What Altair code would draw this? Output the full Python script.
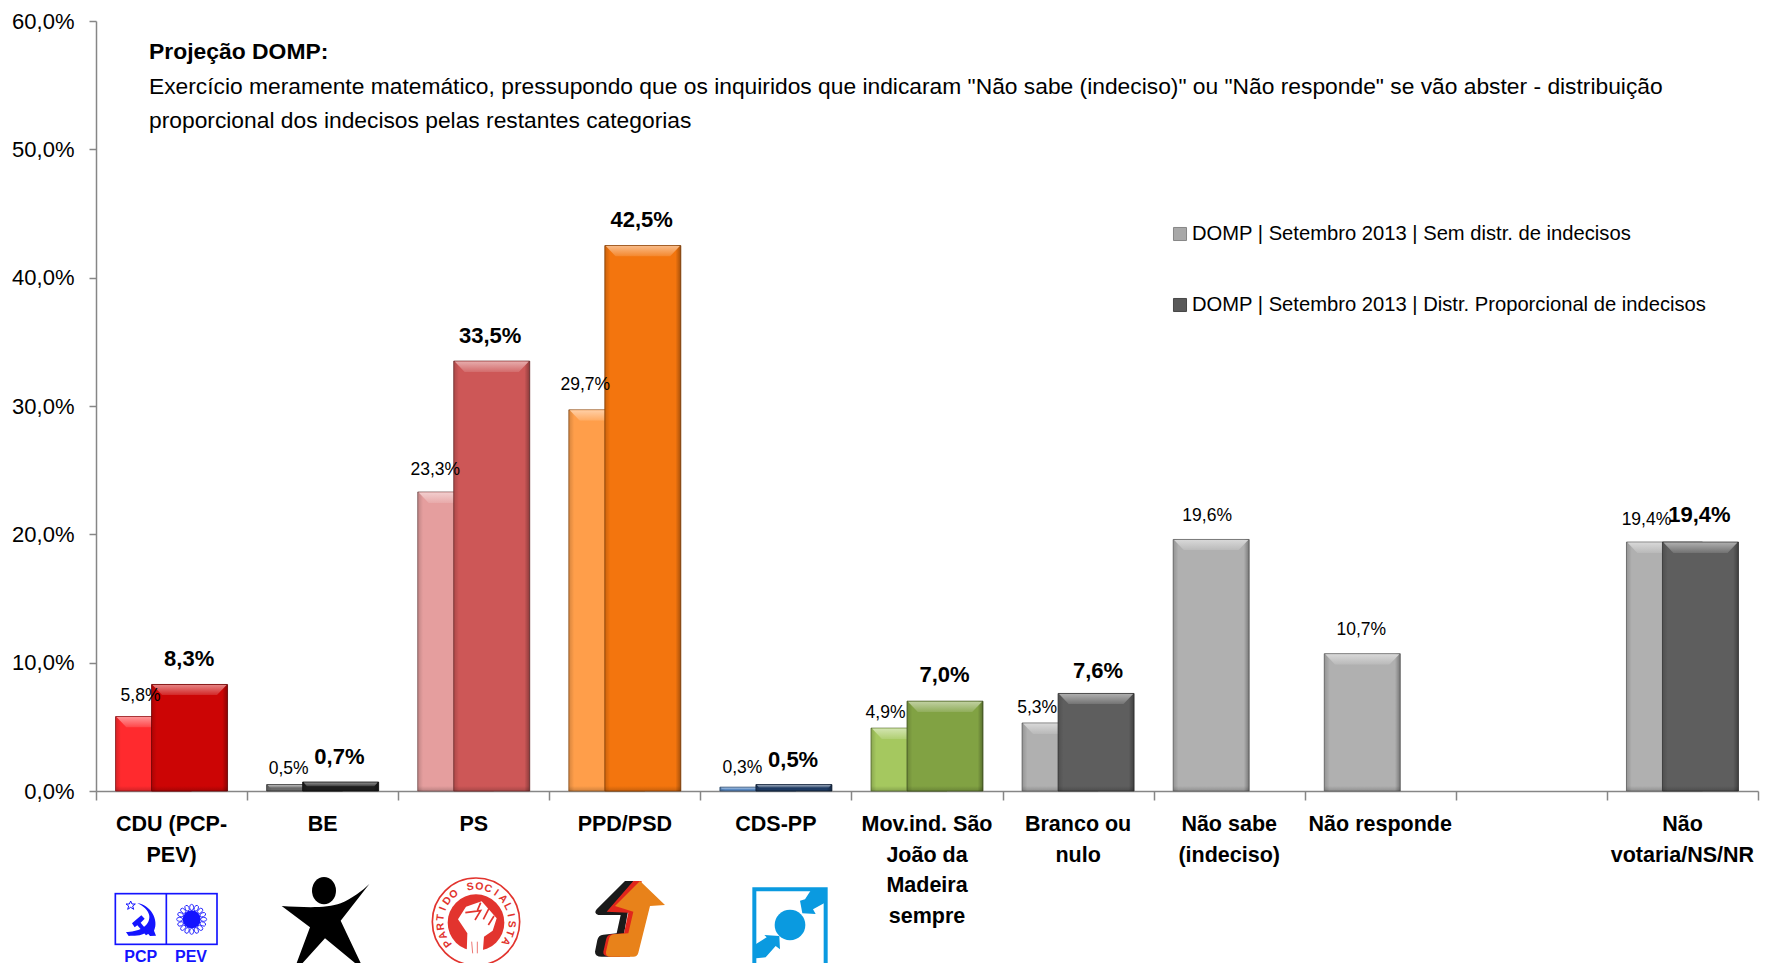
import base64
import math
import altair as alt
import pandas as pd

# ---- data ----
categories = ["CDU", "BE", "PS", "PPD/PSD", "CDS-PP", "Mov", "Branco", "NaoSabe", "NaoResp", "blank", "NaoVot"]
cat_labels = ["CDU (PCP-|PEV)", "BE", "PS", "PPD/PSD", "CDS-PP", "Mov.ind. São|João da|Madeira|sempre",
              "Branco ou|nulo", "Não sabe|(indeciso)", "Não responde", "", "Não|votaria/NS/NR"]
sem_distr = [5.8, 0.5, 23.3, 29.7, 0.3, 4.9, 5.3, 19.6, 10.7, None, 19.4]
com_distr = [8.3, 0.7, 33.5, 42.5, 0.5, 7.0, 7.6, None, None, None, 19.4]
y_ticks = [0, 10, 20, 30, 40, 50, 60]
title_bold = "Projeção DOMP:"
title_line1 = 'Exercício meramente matemático, pressupondo que os inquiridos que indicaram "Não sabe (indeciso)" ou "Não responde" se vão abster - distribuição'
title_line2 = "proporcional dos indecisos pelas restantes categorias"
legend_labels = ["DOMP | Setembro 2013 | Sem distr. de indecisos", "DOMP | Setembro 2013 | Distr. Proporcional de indecisos"]

# ---- styles ----
back_colors = ["#ff2a2e", "#6a6a6a", "#e59e9e", "#ff9e4a", "#5b8bc4", "#a5c85f", "#b0b0b0", "#b0b0b0", "#b0b0b0", "#b0b0b0", "#b0b0b0"]
front_colors = ["#cc0505", "#1e1e1e", "#cd5757", "#f3750e", "#1f3b63", "#81a243", "#5e5e5e", "#000000", "#000000", "#000000", "#5e5e5e"]
back_dx = [-31, -34, -38.5, -39.5, -33.5, -41.5, -41, -22, -19, 0, -36]
back_dy = [-21, -16, -22, -25, -19, -15.5, -15, -23, -24, 0, -22.5]
front_dx = [17.6, 16.8, 16.5, 16.8, 17.2, 17.5, 19.9, 0, 0, 0, 17]
front_dy = [-25, -25.5, -25.5, -26, -24.6, -26, -22.7, 0, 0, 0, -27]

FONT = "Liberation Sans"
W, H = 1662, 770
OX, OY = 96, 21
BAR_W = 76
PX_PER_UNIT = H / 60
AXIS_GREY = "#868686"


def px(v):
    return v - OX


def py(v):
    return v - OY


def mix(hex_color, other, t):
    a = [int(hex_color[i:i + 2], 16) for i in (1, 3, 5)]
    b = [int(other[i:i + 2], 16) for i in (1, 3, 5)]
    return "#" + "".join(f"{round(x + (y - x) * t):02x}" for x, y in zip(a, b))


def stop(c, o):
    return alt.GradientStop(color=c, offset=o)


def data_uri(svg):
    return "data:image/svg+xml;base64," + base64.b64encode(svg.encode()).decode()


x_scale = alt.Scale(domain=categories, paddingInner=0, paddingOuter=0)
y_scale = alt.Scale(domain=[0, 60], nice=False)
x_axis = alt.Axis(labels=False, title=None, tickBand="extent", tickSize=9, tickColor=AXIS_GREY, tickWidth=1.5,
                  domainColor=AXIS_GREY, domainWidth=1.5, grid=False)
y_axis = alt.Axis(values=y_ticks, title=None, tickSize=7, tickColor=AXIS_GREY, tickWidth=1.5, domainColor=AXIS_GREY,
                  domainWidth=1.5, grid=False, labelFont=FONT, labelFontSize=22, labelColor="#000000",
                  labelPadding=15, labelExpr="replace(format(datum.value,'.1f'),'.',',')+'%'")
X = alt.X("cat:N", scale=x_scale, axis=x_axis)
Y = alt.Y("v:Q", scale=y_scale, axis=y_axis)


def bar_layers(cat, v, color, offset):
    h = v * PX_PER_UNIT
    bevel_h = min(11, h * 0.5)
    g = min(5 / h, 0.2)
    df = pd.DataFrame({"cat": [cat], "v": [v]})
    light = mix(color, "#ffffff", 0.5)
    mid = mix(color, "#ffffff", 0.12)
    dark = mix(color, "#000000", 0.18)
    edge = mix(color, "#000000", 0.45)
    vertical = alt.Gradient(gradient="linear", x1=0, x2=0, y1=0, y2=1, stops=[
        stop(color, 0), stop(color, 1 - g), stop(dark, 1)])
    horizontal = alt.Gradient(gradient="linear", x1=0, x2=1, y1=0, y2=0, stops=[
        stop("rgba(0,0,0,0.16)", 0), stop("rgba(0,0,0,0)", 0.07),
        stop("rgba(0,0,0,0)", 0.93), stop("rgba(0,0,0,0.32)", 1)])
    base = alt.Chart(df).mark_bar(width=BAR_W, xOffset=offset, color=vertical, stroke=edge, strokeWidth=1,
                                  strokeOpacity=0.8).encode(x=X, y=Y)
    over = alt.Chart(df).mark_bar(width=BAR_W, xOffset=offset, color=horizontal).encode(x=X, y=Y)
    inset = bevel_h
    svg = (f'<svg xmlns="http://www.w3.org/2000/svg" viewBox="0 0 {BAR_W} {bevel_h:.2f}" preserveAspectRatio="none">'
           f'<defs><linearGradient id="g" x1="0" y1="0" x2="0" y2="1"><stop offset="0" stop-color="{light}"/>'
           f'<stop offset="1" stop-color="{mid}"/></linearGradient></defs>'
           f'<polygon points="1,0.5 {BAR_W - 1},0.5 {BAR_W - inset:.2f},{bevel_h:.2f} {inset:.2f},{bevel_h:.2f}" fill="url(#g)"/></svg>')
    bevel_df = pd.DataFrame({"cat": [cat], "v": [v], "url": [data_uri(svg)]})
    bevel = alt.Chart(bevel_df).mark_image(width=BAR_W, height=bevel_h, xOffset=offset, align="center", baseline="top",
                                           aspect=False).encode(x=X, y=Y, url="url:N")
    return [base, over, bevel]


def fixed_text(t, x, y, **kw):
    kw.setdefault("font", FONT)
    kw.setdefault("color", "#000000")
    kw.setdefault("align", "left")
    kw.setdefault("baseline", "middle")
    return alt.Chart(pd.DataFrame({"t": [t]})).mark_text(**kw).encode(
        text="t:N", x=alt.value(px(x)), y=alt.value(py(y)))


layers = []

# soft shadow below the baseline
shadow_df = pd.DataFrame({"cat": [c for c, v in zip(categories, sem_distr) if v is not None], "v": 0.0})
layers.append(alt.Chart(shadow_df).mark_bar(width=90, height=4, yOffset=3, color="#c4c4c4", opacity=0.55).encode(x=X, y=Y))

# bars
for c, v, col in zip(categories, sem_distr, back_colors):
    if v is not None:
        layers += bar_layers(c, v, col, -18)
for c, v, col in zip(categories, com_distr, front_colors):
    if v is not None:
        layers += bar_layers(c, v, col, 18)


def fmt(v):
    return f"{v:.1f}".replace(".", ",") + "%"


# value labels
for c, v, dx, dy in zip(categories, sem_distr, back_dx, back_dy):
    if v is not None:
        layers.append(alt.Chart(pd.DataFrame({"cat": [c], "v": [v], "t": [fmt(v)]})).mark_text(
            font=FONT, fontSize=17.5, color="#000000", dx=dx, dy=dy, baseline="middle").encode(x=X, y=Y, text="t:N"))
for c, v, dx, dy in zip(categories, com_distr, front_dx, front_dy):
    if v is not None:
        layers.append(alt.Chart(pd.DataFrame({"cat": [c], "v": [v], "t": [fmt(v)]})).mark_text(
            font=FONT, fontSize=22, fontWeight="bold", color="#000000", dx=dx, dy=dy, baseline="middle").encode(x=X, y=Y, text="t:N"))

# category labels
label_df = pd.DataFrame({"cat": categories, "t": cat_labels})
layers.append(alt.Chart(label_df[label_df.t != ""]).mark_text(
    font=FONT, fontSize=21.5, fontWeight="bold", color="#000000", baseline="top", lineBreak="|", lineHeight=30.5
).encode(x=X, y=alt.value(py(814)), text="t:N"))

# annotation and legend
layers.append(fixed_text(title_bold, 149, 52, fontSize=22.9, fontWeight="bold"))
layers.append(fixed_text(title_line1, 149, 87, fontSize=22.8))
layers.append(fixed_text(title_line2, 149, 121, fontSize=22.8))
for label, color, y in zip(legend_labels, ["#a8a8a8", "#595959"], [234, 305]):
    layers.append(fixed_text(label, 1192, y, fontSize=20.2))
    layers.append(alt.Chart(pd.DataFrame({"t": [label]})).mark_square(size=170, color=color, opacity=1,
                  stroke=mix(color, "#000000", 0.2), strokeWidth=1).encode(
        x=alt.value(px(1180)), y=alt.value(py(y))))


# logos (graphics only)
petals = "".join(
    f'<ellipse cx="{275 + 36 * math.cos(a * math.pi / 8):.1f}" cy="{148 + 36 * math.sin(a * math.pi / 8):.1f}" rx="9" ry="6" '
    f'transform="rotate({a * 22.5} {275 + 36 * math.cos(a * math.pi / 8):.1f} {148 + 36 * math.sin(a * math.pi / 8):.1f})" fill="#fff" stroke="#1414ff" stroke-width="2.5"/>'
    for a in range(16))
logo_a = f'''<svg xmlns="http://www.w3.org/2000/svg" viewBox="0 0 840 279" width="280" height="93">
<rect x="46" y="71" width="305" height="152" fill="#fff" stroke="#1414ff" stroke-width="5"/>
<line x1="199" y1="71" x2="199" y2="223" stroke="#1414ff" stroke-width="5"/>
<polygon points="92,93 96,102 106,102 98,108 101,118 92,112 83,118 86,108 78,102 88,102" fill="#fff" stroke="#1414ff" stroke-width="3"/>
<path d="M112 100 C150 103 178 150 162 182 L168 197 L150 198 L140 186 C122 200 100 196 86 198 L78 186 C110 186 150 172 148 138 C146 122 130 108 112 100Z" fill="#1414ff"/>
<path d="M96 160 L124 136 L134 146 L122 158 L148 190 L138 196 L112 166 L104 172 Z" fill="#1414ff"/>
{petals}
<circle cx="275" cy="148" r="27" fill="#1414ff"/>
<ellipse cx="672" cy="62" rx="36" ry="41" fill="#000"/>
<path d="M545 108 C610 112 680 116 722 100 C755 86 790 60 808 42 L722 152 L782 279 L765 279 L675 205 L608 279 L590 279 L630 172 Z" fill="#000"/>
</svg>'''

red = "#e2342e"
blue = "#0a9ae0"
logo_b = f'''<svg xmlns="http://www.w3.org/2000/svg" viewBox="0 0 1260 279" width="420" height="93">
<circle cx="168" cy="155" r="131" fill="#fff" stroke="{red}" stroke-width="5"/>
<circle cx="168" cy="158" r="85" fill="{red}"/>
<path d="M140 252 L142 190 L114 148 L138 110 L185 94 L230 145 L218 182 L192 200 L188 252 Z" fill="#fff"/>
<path d="M136 128 L182 122 L165 150 M182 98 L172 122 M207 115 L190 148 M222 138 L205 165" fill="none" stroke="{red}" stroke-width="5"/>
<path d="M155 215 L158 250 M172 215 L172 250" fill="none" stroke="{red}" stroke-width="2"/>
<path d="M615 33 L640 33 L600 260 L545 260 Q525 260 525 245 L532 210 Q535 195 550 194 L590 190 L602 135 L535 135 Q520 130 530 118 Z" fill="#1a1a1a"/>
<path d="M640 33 L665 33 L630 260 L570 260 Q548 258 550 245 L558 210 Q560 195 575 193 L612 190 L625 128 L560 125 Z" fill="#e0261c"/>
<path d="M660 33 L735 105 L690 108 L655 248 Q652 260 640 260 L572 260 Q556 260 558 245 L566 210 Q568 195 582 193 L625 190 L640 125 L585 108 Z" fill="#e8821a"/>
<path d="M1003 279 L1003 58 L1217 58 L1217 279" fill="none" stroke="{blue}" stroke-width="12"/>
<circle cx="1110" cy="165" r="46" fill="{blue}"/>
<polygon points="1173,60 1155,88 1140,92 1147,130 1187,132 1179,118 1212,100 1212,60" fill="{blue}"/>
<polygon points="1008,222 1040,202 1033,195 1078,198 1080,238 1067,228 1037,262 1008,265" fill="{blue}"/>
</svg>'''

logo_df = pd.DataFrame({"url": [data_uri(logo_a)]})
layers.append(alt.Chart(logo_df).mark_image(width=280, height=93, align="left", baseline="top", aspect=False).encode(
    url="url:N", x=alt.value(px(100)), y=alt.value(py(870))))
logo_df2 = pd.DataFrame({"url": [data_uri(logo_b)]})
layers.append(alt.Chart(logo_df2).mark_image(width=420, height=93, align="left", baseline="top", aspect=False).encode(
    url="url:N", x=alt.value(px(420)), y=alt.value(py(870))))

# logo lettering as real text
for t, x in [("PCP", 140.7), ("PEV", 191)]:
    layers.append(fixed_text(t, x, 961.5, fontSize=16, fontWeight="bold", color="#1414ff",
                             align="center", baseline="alphabetic"))

ring = "PARTIDO SOCIALISTA"
cx, cy, r = 476, 922, 35.5
for i, ch in enumerate(ring):
    if ch == " ":
        continue
    th = -127 + i * 250 / (len(ring) - 1)
    layers.append(fixed_text(ch, cx + r * math.sin(math.radians(th)), cy - r * math.cos(math.radians(th)),
                             fontSize=10.5, fontWeight="bold", color=red, align="center", angle=th % 360))

chart = alt.layer(*layers).properties(
    width=W, height=H,
    padding={"left": 88, "top": 13, "right": 4, "bottom": 172},
    autosize=alt.AutoSizeParams(type="none"),
    background="#ffffff",
).configure_view(stroke=None)

chart.save("out.html", embed_options={"renderer": "svg", "actions": False})
